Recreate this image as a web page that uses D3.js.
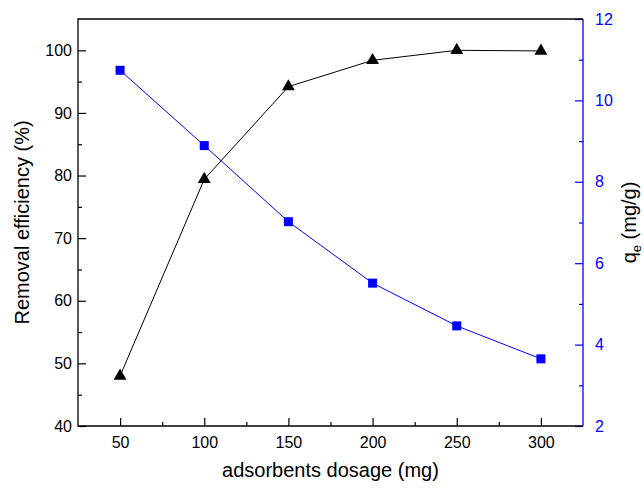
<!DOCTYPE html>
<html>
<head>
<meta charset="utf-8">
<script src="https://cdn.jsdelivr.net/npm/d3@7"></script>
<style>
  body { margin: 0; background: #fff; }
  text { font-family: "Liberation Sans", Arial, sans-serif; }
</style>
</head>
<body>
<svg id="chart"></svg>
<script>
const dosage = [50, 100, 150, 200, 250, 300];
const removalEfficiency = [48.0, 79.4, 94.2, 98.4, 100.0, 99.9];
const qe = [10.74, 8.89, 7.02, 5.51, 4.46, 3.65];
const xTicks = [50, 100, 150, 200, 250, 300];
const leftTicks = [40, 50, 60, 70, 80, 90, 100];
const rightTicks = [2, 4, 6, 8, 10, 12];

const width = 644, height = 488;
const margin = { top: 19, right: 61, bottom: 62, left: 78 };
const blue = "#0000ff";

const svg = d3.select("#chart").attr("width", width).attr("height", height);

const x = d3.scaleLinear().domain([25, 325]).range([margin.left, width - margin.right]);
const yL = d3.scaleLinear().domain([40, 105]).range([height - margin.bottom, margin.top]);
const yR = d3.scaleLinear().domain([2, 12]).range([height - margin.bottom, margin.top]);

const x0 = margin.left, x1 = width - margin.right;
const y0 = height - margin.bottom, y1 = margin.top;

// bottom axis (ticks pointing in)
svg.append("g").attr("transform", `translate(0,${y0})`)
  .call(d3.axisBottom(x).tickValues(xTicks).tickSizeInner(-8).tickSizeOuter(0).tickPadding(11));
svg.append("g").attr("transform", `translate(0,${y0})`)
  .call(d3.axisBottom(x).tickValues(d3.range(75, 325, 50)).tickSize(-4).tickFormat(""));

// left axis
svg.append("g").attr("transform", `translate(${x0},0)`)
  .call(d3.axisLeft(yL).tickValues(leftTicks).tickSizeInner(-8).tickSizeOuter(0).tickPadding(6));
svg.append("g").attr("transform", `translate(${x0},0)`)
  .call(d3.axisLeft(yL).tickValues(d3.range(45, 105, 10)).tickSize(-4).tickFormat(""));

// right axis (blue)
svg.append("g").attr("class", "raxis").attr("transform", `translate(${x1},0)`)
  .call(d3.axisRight(yR).tickValues(rightTicks).tickSizeInner(-8).tickSizeOuter(0).tickPadding(12));
svg.append("g").attr("class", "raxis").attr("transform", `translate(${x1},0)`)
  .call(d3.axisRight(yR).tickValues(d3.range(3, 12, 2)).tickSize(-4).tickFormat(""));

svg.selectAll(".domain").remove();
svg.selectAll(".tick line").attr("stroke", "#000").attr("stroke-width", 1.2);
svg.selectAll(".tick text").attr("font-size", 16).attr("fill", "#000");
svg.selectAll(".raxis .tick line").attr("stroke", blue);
svg.selectAll(".raxis .tick text").attr("fill", blue);

// frame
svg.append("path")
  .attr("d", `M${x1},${y1}H${x0}V${y0}H${x1}`)
  .attr("fill", "none").attr("stroke", "#000").attr("stroke-width", 1.3);
svg.append("line")
  .attr("x1", x1).attr("x2", x1).attr("y1", y1).attr("y2", y0)
  .attr("stroke", blue).attr("stroke-width", 1.3);

// removal efficiency series
svg.append("path")
  .datum(dosage.map((d, i) => [d, removalEfficiency[i]]))
  .attr("fill", "none").attr("stroke", "#000").attr("stroke-width", 1)
  .attr("d", d3.line().x(d => x(d[0])).y(d => yL(d[1])));
svg.selectAll(".tri")
  .data(dosage.map((d, i) => [d, removalEfficiency[i]]))
  .enter().append("path")
  .attr("transform", d => `translate(${x(d[0])},${yL(d[1])})`)
  .attr("d", d3.symbol(d3.symbolTriangle, 72))
  .attr("fill", "#000");

// qe series
svg.append("path")
  .datum(dosage.map((d, i) => [d, qe[i]]))
  .attr("fill", "none").attr("stroke", blue).attr("stroke-width", 1)
  .attr("d", d3.line().x(d => x(d[0])).y(d => yR(d[1])));
svg.selectAll(".sq")
  .data(dosage.map((d, i) => [d, qe[i]]))
  .enter().append("rect")
  .attr("x", d => x(d[0]) - 4.5).attr("y", d => yR(d[1]) - 4.5)
  .attr("width", 9).attr("height", 9)
  .attr("fill", blue);

// axis titles
svg.append("text")
  .attr("x", (x0 + x1) / 2).attr("y", 477)
  .attr("text-anchor", "middle").attr("font-size", 20)
  .text("adsorbents dosage (mg)");

svg.append("text")
  .attr("transform", `translate(29,${(y0 + y1) / 2}) rotate(-90)`)
  .attr("text-anchor", "middle").attr("font-size", 20)
  .text("Removal efficiency (%)");

const rt = svg.append("text")
  .attr("transform", `translate(636,${(y0 + y1) / 2}) rotate(-90)`)
  .attr("text-anchor", "middle").attr("font-size", 20);
rt.append("tspan").text("q");
rt.append("tspan").attr("font-size", 13).attr("dy", 5).text("e");
rt.append("tspan").attr("dy", -5).text(" (mg/g)");
</script>
</body>
</html>
